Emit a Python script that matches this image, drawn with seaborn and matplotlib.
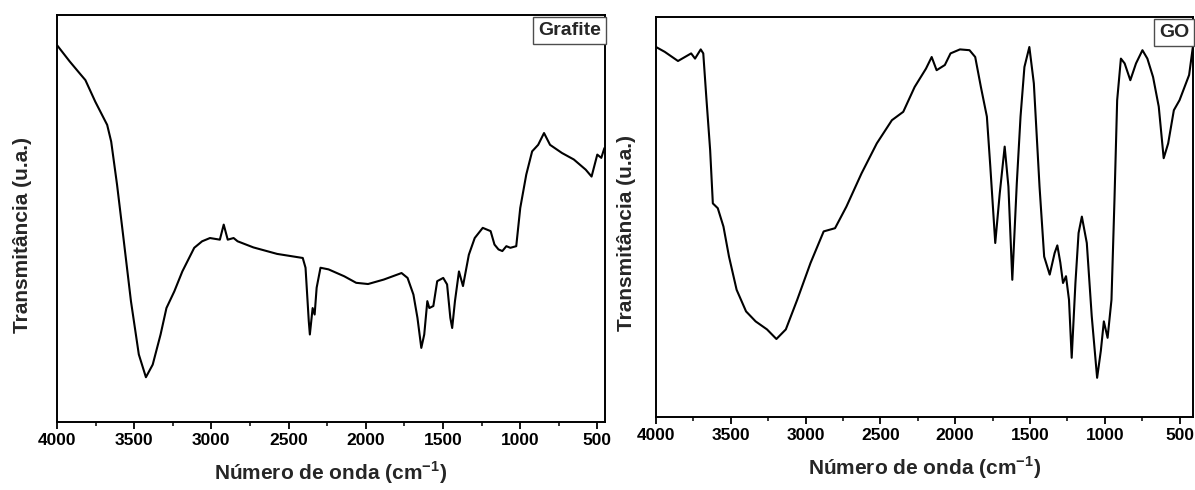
import matplotlib
matplotlib.use("Agg")
import matplotlib.pyplot as plt
from matplotlib.ticker import MultipleLocator
import seaborn as sns
import pandas as pd

# --- data (wavenumber cm-1, transmittance a.u.) ---
grafite_wn = [4000, 3918, 3854, 3816, 3752, 3675, 3649, 3611, 3572, 3521, 3470, 3424,
              3380, 3329, 3291, 3240, 3188, 3111, 3060, 3009, 2945, 2920, 2894, 2856,
              2830, 2728, 2574, 2408, 2390, 2369, 2362, 2344, 2331, 2318, 2293, 2241,
              2139, 2062, 1985, 1883, 1768, 1729, 1691, 1665, 1640, 1621, 1601, 1588,
              1562, 1537, 1498, 1473, 1452, 1440, 1422, 1396, 1370, 1332, 1294, 1242,
              1191, 1166, 1140, 1115, 1089, 1063, 1025, 999, 960, 922, 883, 845, 806,
              729, 652, 575, 537, 500, 474, 454]
grafite_t = [92.6, 88.6, 85.7, 84.0, 78.7, 73.0, 68.9, 58.3, 46.0, 29.7, 16.6, 11.0,
             14.1, 21.5, 28.0, 32.1, 37.0, 42.8, 44.4, 45.2, 44.8, 48.5, 44.8, 45.2,
             44.4, 42.9, 41.3, 40.3, 37.9, 24.8, 21.5, 28.0, 26.4, 33.0, 37.9, 37.5,
             35.8, 34.2, 33.9, 35.0, 36.6, 35.4, 31.3, 25.6, 18.2, 21.5, 29.7, 28.0,
             28.5, 34.6, 35.4, 33.8, 25.6, 23.1, 29.7, 37.0, 33.4, 41.1, 45.2, 47.7,
             46.9, 43.6, 42.4, 42.0, 43.2, 42.8, 43.2, 52.6, 60.8, 66.5, 68.1, 71.0, 68.1,
             66.1, 64.5, 62.0, 60.3, 65.7, 64.9, 67.3]

go_wn = [4000, 3942, 3853, 3765, 3739, 3701, 3684, 3663, 3638, 3620, 3587, 3549, 3512,
         3461, 3398, 3334, 3258, 3195, 3132, 3056, 2967, 2879, 2803, 2727, 2626, 2524,
         2423, 2347, 2271, 2195, 2157, 2124, 2069, 2031, 1968, 1904, 1866, 1828, 1788,
         1765, 1732, 1702, 1669, 1644, 1618, 1588, 1563, 1537, 1504, 1474, 1436, 1405,
         1368, 1335, 1317, 1297, 1279, 1259, 1239, 1221, 1196, 1175, 1153, 1120, 1087,
         1051, 1026, 1006, 981, 955, 935, 917, 892, 867, 829, 791, 748, 715, 677, 639,
         606, 576, 538, 500, 436, 411]
go_t = [92.5, 91.3, 89.0, 90.9, 89.6, 91.9, 90.9, 79.6, 66.7, 53.4, 52.2, 47.6, 40.1,
        31.8, 26.4, 23.9, 21.9, 19.5, 21.9, 29.3, 38.5, 46.4, 47.2, 52.6, 60.9, 68.4,
        74.2, 76.3, 82.5, 87.1, 90.0, 86.7, 88.0, 90.9, 91.9, 91.7, 90.0, 82.5, 75.1,
        62.6, 43.5, 55.9, 67.6, 57.6, 34.3, 58.4, 75.1, 87.5, 92.5, 83.4, 57.6, 40.1,
        35.6, 41.0, 42.9, 38.6, 33.5, 35.2, 29.3, 14.8, 33.5, 46.0, 50.1, 43.5, 25.2,
        9.8, 16.6, 23.9, 19.8, 29.3, 54.3, 79.2, 89.6, 88.4, 84.2, 88.4, 91.7, 89.6, 85.0, 77.6,
        64.7, 68.4, 76.7, 79.2, 85.5, 92.5]

labels = ["Grafite", "GO"]
xlabel = "Número de onda (cm$^{\\mathbf{-1}}$)"
ylabel = "Transmitância (u.a.)"
xticks = [4000, 3500, 3000, 2500, 2000, 1500, 1000, 500]

sns.set_style("white")
plt.rcParams['font.family'] = ['Liberation Sans', 'DejaVu Sans']
plt.rcParams['mathtext.fontset'] = 'custom'
plt.rcParams['mathtext.bf'] = 'Liberation Sans:bold'
plt.rcParams['mathtext.rm'] = 'Liberation Sans'

fig = plt.figure(figsize=(11.95, 4.90), dpi=100)
ax1 = fig.add_axes([57/1195, 1-422/490, (605-57)/1195, (422-15)/490])
ax2 = fig.add_axes([656/1195, 1-417/490, (1193-656)/1195, (417-17)/490])

datasets = [(ax1, grafite_wn, grafite_t, labels[0], 450, -0.046),
            (ax2, go_wn, go_t, labels[1], 410, -0.037)]

for ax, wn, t, lab, xmin, ylx in datasets:
    df = pd.DataFrame({"wn": wn, "t": t})
    sns.lineplot(data=df, x="wn", y="t", ax=ax, color="black", lw=1.5, sort=False)
    ax.set_xlim(4000, xmin)
    ax.set_ylim(0, 100)
    ax.set_xticks(xticks)
    ax.set_xticklabels([str(v) for v in xticks])
    ax.xaxis.set_minor_locator(MultipleLocator(250))
    ax.set_yticks([])
    ax.tick_params(axis='x', which='major', direction='out', length=5, width=1.3,
                   bottom=True, top=False, labelsize=12.5, pad=3, colors='black')
    ax.tick_params(axis='x', which='minor', direction='out', length=3, width=1.3,
                   bottom=True, top=False)
    for lbl in ax.get_xticklabels():
        lbl.set_fontweight('bold')
    for sp in ax.spines.values():
        sp.set_visible(True)
        sp.set_color('black')
        sp.set_linewidth(1.4)
    ax.set_xlabel(xlabel, fontsize=15, fontweight='bold', labelpad=8)
    ax.set_ylabel(ylabel, fontsize=15, fontweight='bold')
    ax.yaxis.set_label_coords(ylx, 0.46)
    ax.text(0.993, 0.982, lab, transform=ax.transAxes, ha='right', va='top',
            fontsize=14, fontweight='bold',
            bbox=dict(boxstyle='square,pad=0.25', fc='white', ec='0.3', lw=1))

fig.savefig("out.png", dpi=100)
